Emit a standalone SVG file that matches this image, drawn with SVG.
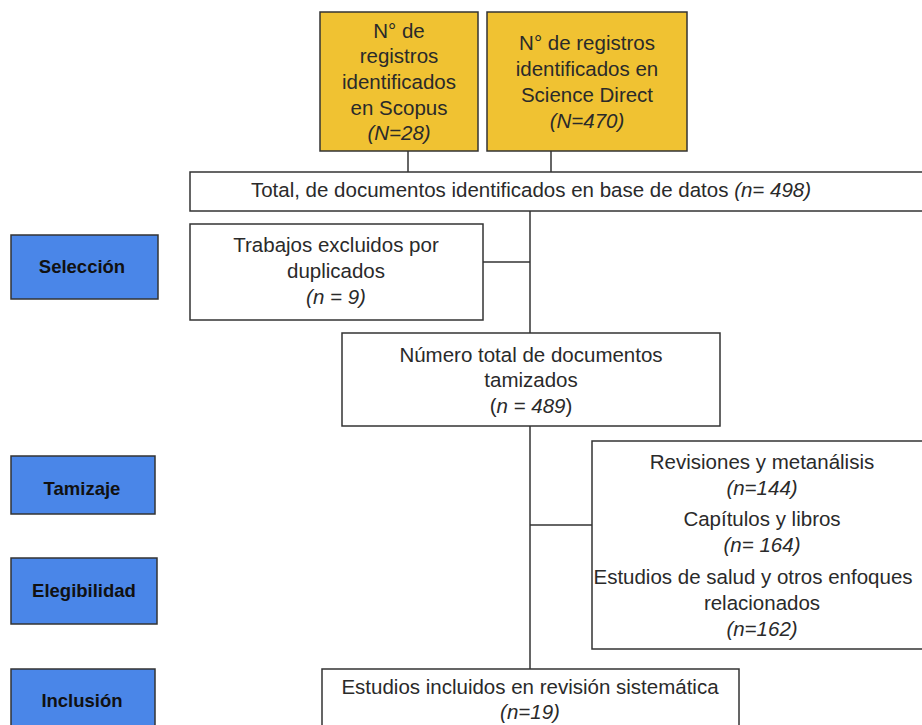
<svg xmlns="http://www.w3.org/2000/svg" width="922" height="725" viewBox="0 0 922 725">
<style>
.box{fill:#fff;stroke:#333;stroke-width:1.5}
.src{fill:#F0C232;stroke:#333;stroke-width:1.5}
.stage{fill:#4A86E8;stroke:#333;stroke-width:1.5}
text{font-family:"Liberation Sans",Arial,sans-serif;font-size:20.5px;fill:#2a2a2a;text-anchor:middle}
.b{font-weight:bold;font-size:18.5px;fill:#111}
.i{font-style:italic}
.con{stroke:#333;stroke-width:1.5;fill:none}
</style>
<rect width="922" height="725" fill="#fff"/>
<g id="connectors">
<line class="con" x1="408" y1="151" x2="408" y2="172"/>
<line class="con" x1="551" y1="151" x2="551" y2="172"/>
<line class="con" x1="530" y1="211" x2="530" y2="333"/>
<line class="con" x1="483" y1="262" x2="530" y2="262"/>
<line class="con" x1="530" y1="426" x2="530" y2="669"/>
<line class="con" x1="530" y1="525" x2="592" y2="525"/>
</g>
<g id="scopus">
<rect class="src" x="320" y="12" width="158" height="139"/>
<text x="399" y="38">N° de</text>
<text x="399" y="63">registros</text>
<text x="399" y="89">identificados</text>
<text x="399" y="115">en Scopus</text>
<text x="399" y="140" class="i">(N=28)</text>
</g>
<g id="sciencedirect">
<rect class="src" x="487" y="12" width="200" height="139"/>
<text x="587" y="50">N° de registros</text>
<text x="587" y="76">identificados en</text>
<text x="587" y="102">Science Direct</text>
<text x="587" y="128" class="i">(N=470)</text>
</g>
<g id="total">
<rect class="box" x="190" y="172" width="740" height="39"/>
<text x="531" y="197">Total, de documentos identificados en base de datos <tspan class="i">(n= 498)</tspan></text>
</g>
<g id="seleccion">
<rect class="stage" x="11" y="235" width="147" height="64"/>
<text x="82" y="273" class="b">Selección</text>
</g>
<g id="duplicados">
<rect class="box" x="190" y="224" width="293" height="96"/>
<text x="336" y="252">Trabajos excluidos por</text>
<text x="336" y="278">duplicados</text>
<text x="336" y="304" class="i">(n = 9)</text>
</g>
<g id="tamizados">
<rect class="box" x="342" y="333" width="378" height="93"/>
<text x="531" y="362">Número total de documentos</text>
<text x="531" y="387">tamizados</text>
<text x="531" y="413">(<tspan class="i">n = 489</tspan>)</text>
</g>
<g id="tamizaje">
<rect class="stage" x="11" y="456" width="144" height="58"/>
<text x="82" y="495" class="b">Tamizaje</text>
</g>
<g id="excluidos">
<rect class="box" x="592" y="441" width="340" height="208"/>
<text x="762" y="469">Revisiones y metanálisis</text>
<text x="762" y="495" class="i">(n=144)</text>
<text x="762" y="526">Capítulos y libros</text>
<text x="762" y="552" class="i">(n= 164)</text>
<text x="753" y="584">Estudios de salud y otros enfoques</text>
<text x="762" y="610">relacionados</text>
<text x="762" y="636" class="i">(n=162)</text>
</g>
<g id="elegibilidad">
<rect class="stage" x="11" y="558" width="146" height="66"/>
<text x="84" y="597" class="b">Elegibilidad</text>
</g>
<g id="inclusion">
<rect class="stage" x="11" y="669" width="144" height="70"/>
<text x="82" y="707" class="b">Inclusión</text>
</g>
<g id="incluidos">
<rect class="box" x="322" y="669" width="417" height="70"/>
<text x="530" y="694">Estudios incluidos en revisión sistemática</text>
<text x="530" y="719" class="i">(n=19)</text>
</g>
</svg>
